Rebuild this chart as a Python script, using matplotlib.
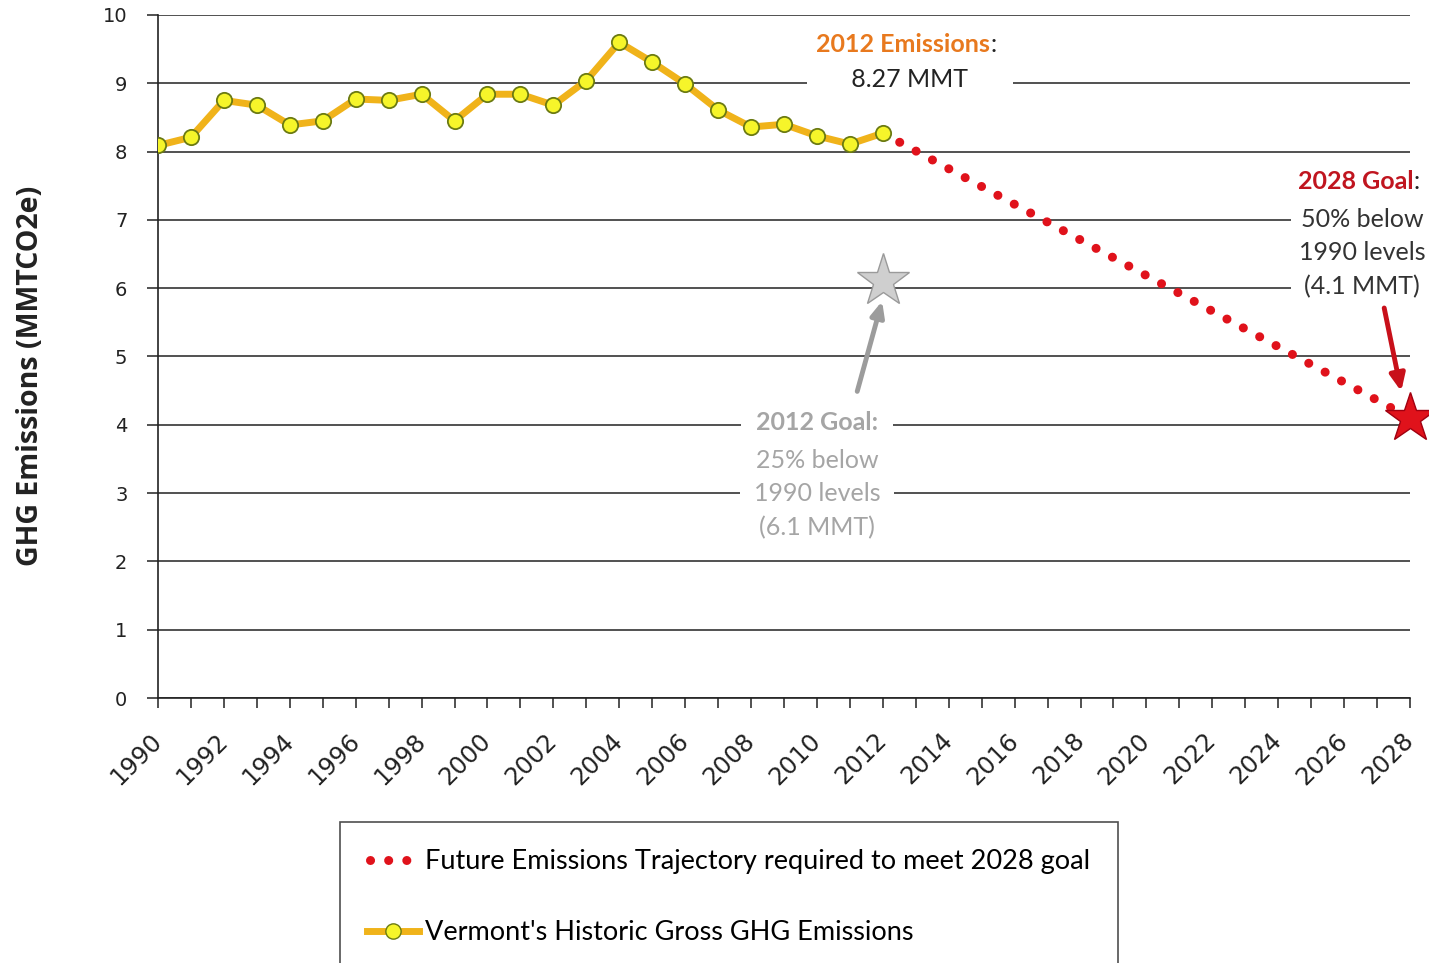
import matplotlib
matplotlib.use("Agg")
import matplotlib.pyplot as plt
from matplotlib.lines import Line2D

# historic gross GHG emissions (MMTCO2e)
hist_years = list(range(1990, 2013))
hist_values = [8.09, 8.21, 8.75, 8.68, 8.39, 8.45, 8.77, 8.75, 8.84, 8.45, 8.84,
               8.84, 8.68, 9.04, 9.60, 9.31, 8.99, 8.61, 8.36, 8.40, 8.23, 8.11, 8.27]

# required trajectory to the 2028 goal
traj_years = [2012, 2028]
traj_values = [8.27, 4.1]

goal_2012 = (2012, 6.1)
goal_2028 = (2028, 4.1)

year_ticks = list(range(1990, 2029))
year_labels = [str(y) if y % 2 == 0 else "" for y in year_ticks]
y_ticks = list(range(0, 11))

ORANGE = "#f0b31a"
RED = "#e0121b"
DARK_RED = "#c0151f"
GREY = "#a5a5a5"
INK = "#222222"
TXT = "Lato"

fig = plt.figure(figsize=(14.29, 9.63), dpi=100)
ax = fig.add_axes([158 / 1429, 1 - 698 / 963, (1410 - 158) / 1429, (698 - 15) / 963])

ax.set_xlim(1990, 2028)
ax.set_ylim(0, 10)
for s in ["top", "right"]:
    ax.spines[s].set_visible(False)
for s in ["left", "bottom"]:
    ax.spines[s].set_color(INK)
    ax.spines[s].set_linewidth(1.2)

ax.set_yticks(y_ticks)
ax.set_yticklabels([str(v) for v in y_ticks], fontsize=14, color=INK)
ax.set_xticks(year_ticks)
ax.set_xticklabels(year_labels, fontsize=17.5, rotation=45, ha="right", va="center",
                   rotation_mode="anchor", color=INK)
ax.tick_params(axis="y", length=8, width=1.1, pad=14, color=INK)
ax.tick_params(axis="x", length=7, width=1.1, pad=21, color=INK)
ax.yaxis.grid(True, color=INK, linewidth=1.1)
ax.set_axisbelow(True)

ax.set_ylabel("GHG Emissions (MMTCO2e)", fontsize=20.5, fontweight="bold",
              family="Open Sans", color=INK)
ax.yaxis.set_label_coords(-113 / 1252, 0.471)

# trajectory (red dots)
ax.plot(traj_years, traj_values, color=RED, linewidth=6.5,
        linestyle=(2.0, (0.01, 2.05)), dash_capstyle="round", zorder=3)

# historic line
ax.plot(hist_years, hist_values, color=ORANGE, linewidth=5,
        marker="o", markersize=11, markerfacecolor="#f6f52a",
        markeredgecolor="#6b7a12", markeredgewidth=1.3, zorder=4)

# goal stars
ax.plot(*goal_2012, marker="*", markersize=40, color="#cfcfcf",
        markeredgecolor="#9a9a9a", markeredgewidth=1, zorder=5, clip_on=False)
ax.plot(*goal_2028, marker="*", markersize=38, color=RED,
        markeredgecolor="#a00010", markeredgewidth=1, zorder=5, clip_on=False)


def white_box(pad):
    return dict(boxstyle=f"square,pad={pad}", facecolor="white", edgecolor="none")


# 2012 emissions label
em_title = ax.text(2012.62, 9.575, "2012 Emissions", fontsize=18, fontweight="bold",
                   color="#e8791e", family=TXT, ha="center", va="center", zorder=6)
ax.annotate(":", xy=(1, 0.5), xycoords=em_title, fontsize=18, color=INK,
            family=TXT, ha="left", va="center", zorder=6)
ax.text(2012.82, 9.06, "      8.27 MMT      ", fontsize=18, color=INK, family=TXT,
        ha="center", va="center", zorder=6, bbox=white_box(0.25))

# 2028 goal label
goal_title = ax.text(2026.35, 7.555, "2028 Goal", fontsize=18, fontweight="bold",
                     color=DARK_RED, family=TXT, ha="center", va="center", zorder=6)
ax.annotate(":", xy=(1, 0.5), xycoords=goal_title, fontsize=18, color=INK,
            family=TXT, ha="left", va="center", zorder=6)
ax.text(2026.54, 6.52, "50% below\n1990 levels\n(4.1 MMT)", fontsize=18,
        color="#333333", family=TXT, ha="center", va="center", linespacing=1.55,
        zorder=6, bbox=white_box(0.3), clip_on=False)
ax.annotate("", xy=(2027.75, 4.45), xytext=(2027.2, 5.75),
            arrowprops=dict(arrowstyle="-|>,head_length=1.0,head_width=0.45",
                            color="#c8101a", linewidth=3.5), zorder=6)

# 2012 goal label
ax.text(2010.0, 4.03, "2012 Goal:", fontsize=18, fontweight="bold", color=GREY,
        family=TXT, ha="center", va="center", zorder=6, bbox=white_box(0.6))
ax.text(2010.0, 2.99, "25% below\n1990 levels\n(6.1 MMT)", fontsize=18,
        color=GREY, family=TXT, ha="center", va="center", linespacing=1.55,
        zorder=6, bbox=white_box(0.55))
ax.annotate("", xy=(2012.0, 5.85), xytext=(2011.2, 4.45),
            arrowprops=dict(arrowstyle="-|>,head_length=0.9,head_width=0.4",
                            color="#9c9c9c", linewidth=3.5), zorder=6)

# legend
traj_handle = Line2D([], [], color=RED, linewidth=6.5,
                     linestyle=(1.68, (0.01, 2.0)), dash_capstyle="round")
hist_handle = Line2D([], [], color=ORANGE, linewidth=5, marker="o", markersize=11,
                     markerfacecolor="#f6f52a", markeredgecolor="#6b7a12")
leg = fig.legend([traj_handle, hist_handle],
                 ["Future Emissions Trajectory required to meet 2028 goal",
                  "Vermont's Historic Gross GHG Emissions"],
                 loc="upper left", bbox_to_anchor=(340 / 1429, 1 - 822 / 963),
                 prop={"family": TXT, "size": 19.5},
                 frameon=True, fancybox=False, edgecolor=INK,
                 handlelength=1.9, handletextpad=0.25, labelspacing=1.7,
                 borderpad=1.0, borderaxespad=0)
leg._legend_box.align = "left"
leg.get_frame().set_linewidth(1.2)
leg.borderpad = 1.0

fig.savefig("out.png", dpi=100)
